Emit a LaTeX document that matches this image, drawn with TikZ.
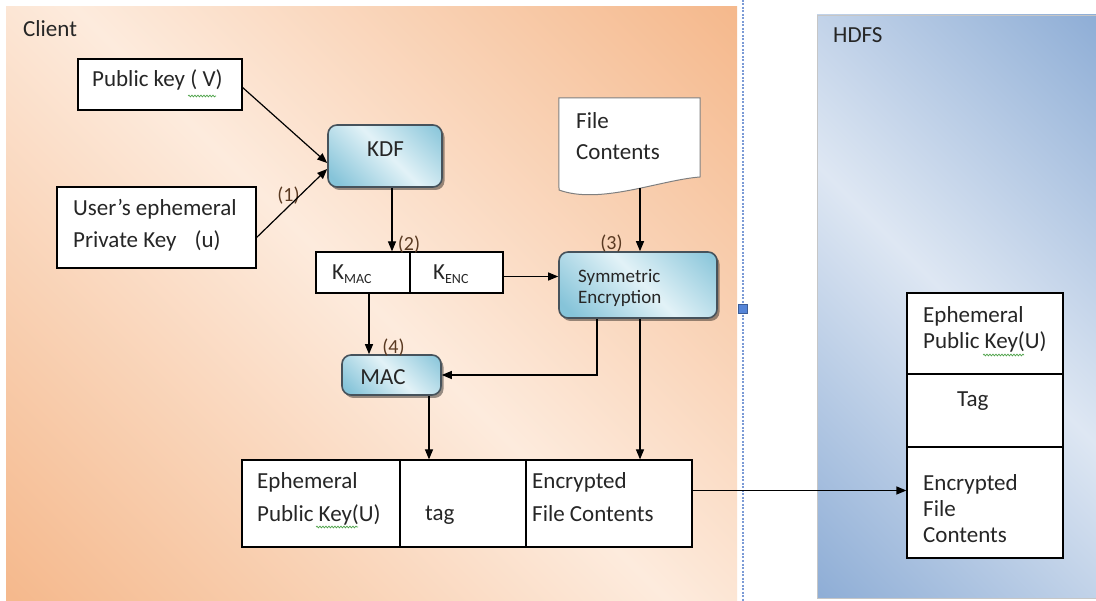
\documentclass[tikz,border=0pt]{standalone}
\usepackage{fontspec}
\setmainfont{Carlito}
\usetikzlibrary{arrows.meta,shadows,decorations.pathmorphing,calc}

\definecolor{txtc}{HTML}{262626}
\definecolor{orgdark}{HTML}{F5B98D}
\definecolor{orglight}{HTML}{FDEBDD}
\definecolor{bluedark}{HTML}{8FAED6}
\definecolor{bluelight}{HTML}{DEE7F3}
\definecolor{procdark}{HTML}{86C4D9}
\definecolor{proclight}{HTML}{E2F2F7}
\definecolor{procedge}{HTML}{46525B}
\definecolor{stepnum}{HTML}{5A3A22}
\definecolor{guide}{HTML}{7C9BD6}
\definecolor{handlefill}{HTML}{5585D8}
\definecolor{squiggle}{HTML}{4FA34A}
\definecolor{docedge}{HTML}{7F7F7F}

% diagonal two-tone fills: dark at two opposite corners, light across the middle
\pgfdeclarehorizontalshading{clientbg}{100bp}{color(0bp)=(orgdark); color(15bp)=(orgdark); color(50bp)=(orglight); color(85bp)=(orgdark); color(100bp)=(orgdark)}
\pgfdeclarehorizontalshading{hdfsbg}{100bp}{color(0bp)=(bluedark); color(15bp)=(bluedark); color(50bp)=(bluelight); color(85bp)=(bluedark); color(100bp)=(bluedark)}
\pgfdeclarehorizontalshading{procbg}{100bp}{color(0bp)=(procdark); color(20bp)=(procdark); color(52bp)=(proclight); color(85bp)=(procdark); color(100bp)=(procdark)}

% left-aligned block of lines whose baseline is the first line
\newcommand{\txtblock}[2]{\parbox[t]{#1pt}{\raggedright #2}}

\begin{document}
\begin{tikzpicture}[x=1pt,y=-1pt, font=\fontsize{23}{32}\selectfont, text=txtc,
  cell/.style={draw=black, line width=1.2pt, fill=white, inner sep=0pt},
  proc/.style={draw=procedge, line width=1.6pt, rounded corners=9pt, shade, shading=procbg, shading angle=45, inner sep=0pt,
    drop shadow={shadow xshift=2.5pt, shadow yshift=-3pt, opacity=0.4, fill=black}},
  lbl/.style={inner sep=0pt, anchor=base west},
  num/.style={inner sep=0pt, text=stepnum, font=\fontsize{20}{20}\selectfont},
  arr/.style={line width=1.2pt, draw=black, -{Triangle[length=10pt,width=8pt]}},
  squig/.style={draw=squiggle, line width=0.7pt, decorate, decoration={snake, amplitude=0.9pt, segment length=3pt}}
]
\fill[white] (0,0) rectangle (1096,601);
\useasboundingbox (0,0) rectangle (1096,601);

% panels
\shade[shading=clientbg, shading angle=45] (6,7) rectangle (737,601);
\shade[shading=hdfsbg, shading angle=45, draw=gray!45, line width=0.8pt] (817,15) rectangle (1100,598);
\draw[guide, line width=1.3pt, dash pattern=on 2pt off 1.5pt] (743,0) -- (743,601);
\node[fill=handlefill, draw=handlefill!70!black, line width=0.5pt, minimum size=9, inner sep=0pt] (handle) at (743,309) {};

\node[lbl] (clientlbl) at (23,37) {Client};
\node[lbl] (hdfslbl) at (833,43) {HDFS};

% inputs
\node[cell, minimum width=164, minimum height=51] (pubv) at (160,84.5) {};
\node[lbl] (pubv-t) at (92,87) {Public key ( V)};
\node[cell, minimum width=199, minimum height=81] (priv) at (156.5,227.5) {};
\node[lbl] (priv-t) at (73,216) {\txtblock{180}{User’s ephemeral\\Private Key\hspace{18pt}(u)}};

% key derivation
\node[proc, minimum width=114, minimum height=62] (kdf) at (385,156) {};
\node[inner sep=0pt, anchor=base] (kdf-t) at (385.5,157) {KDF};

\node[cell, minimum width=94, minimum height=41] (kmac) at (363,272.5) {};
\node[cell, minimum width=93, minimum height=41] (kenc) at (456.5,272.5) {};
\node[lbl] (kmac-t) at (332,280) {K\raisebox{-4pt}{\fontsize{14}{14}\selectfont MAC}};
\node[lbl] (kenc-t) at (433,280) {K\raisebox{-4pt}{\fontsize{14}{14}\selectfont ENC}};

% plaintext document
\node[inner sep=0pt, minimum width=141, minimum height=92] (filec) at (629.5,144) {};
\draw[docedge, line width=1pt, fill=white] (filec.north west) -- (filec.north east) -- (700,177)
  .. controls (660,180) and (600,205) .. (559,190) -- cycle;
\coordinate (fbot) at (640,188);
\node[lbl] (filec-t) at (576,129) {\txtblock{120}{File\\[-1pt]Contents}};

\node[proc, minimum width=158, minimum height=66] (symenc) at (638,285) {};
\node[lbl, font=\fontsize{19}{20.5}\selectfont] (symenc-t) at (578,283) {\txtblock{130}{Symmetric\\Encryption}};

\node[proc, minimum width=99, minimum height=40] (mac) at (391.5,375) {};
\node[inner sep=0pt, anchor=base] (mac-t) at (383,385) {MAC};

% step numbers
\node[num] (n1) at (288.5,196) {(1)};
\node[num] (n2) at (409,244.5) {(2)};
\node[num] (n3) at (611.5,244) {(3)};
\node[num] (n4) at (393.5,347.5) {(4)};

% client output record
\node[cell, minimum width=158, minimum height=87] (ekey) at (321,503.5) {};
\node[cell, minimum width=126, minimum height=87] (tagc) at (463,503.5) {};
\node[cell, minimum width=166, minimum height=87] (encc) at (609,503.5) {};
\node[lbl, font=\fontsize{23}{33}\selectfont] (ekey-t) at (257,489) {\txtblock{140}{Ephemeral\\Public Key(U)}};
\node[lbl] (tagc-t) at (425,521) {tag};
\node[lbl, font=\fontsize{23}{33}\selectfont] (encc-t) at (532,489) {\txtblock{160}{Encrypted\\File Contents}};

% stored record
\node[cell, minimum width=156, minimum height=81] (hek) at (985,333.5) {};
\node[cell, minimum width=156, minimum height=73] (htag) at (985,410.5) {};
\node[cell, minimum width=156, minimum height=111] (henc) at (985,502.5) {};
\node[lbl, font=\fontsize{23}{26}\selectfont] (hek-t) at (923,323) {\txtblock{140}{Ephemeral\\Public Key(U)}};
\node[lbl] (htag-t) at (957,407) {Tag};
\node[lbl, font=\fontsize{23}{26}\selectfont] (henc-t) at (923,491) {\txtblock{140}{Encrypted\\File\\Contents}};

% spelling marks
\draw[squig] (188,96) -- (216,96);
\draw[squig] (316,527) -- (358,527);
\draw[squig] (983,355) -- (1024,355);

% connectors
\draw[arr] ([yshift=-3pt]pubv.east) -- ([yshift=-7pt]kdf.west);
\draw[arr] ([yshift=-10pt]priv.east) -- ([yshift=-13pt]kdf.west);
\draw[arr] ([xshift=7pt]kdf.south) -- ([xshift=7pt]kdf.south |- kmac.north);
\draw[arr] (fbot) -- (fbot |- symenc.north);
\draw[arr] ([yshift=-4pt]kenc.east) -- ([yshift=-4pt]kenc.east -| symenc.west);
\draw[arr] ([xshift=6pt]kmac.south) -- ([xshift=6pt]kmac.south |- mac.north);
\draw[arr] ([xshift=-41pt]symenc.south) |- (mac.east);
\draw[arr] ([xshift=2pt]symenc.south) -- ([xshift=2pt]symenc.south |- encc.north);
\draw[arr] ([xshift=37.5pt]mac.south) -- ([xshift=37.5pt]mac.south |- tagc.north);
\draw[arr] ([yshift=13pt]encc.east) -- ([yshift=13pt]encc.east -| henc.west);
\end{tikzpicture}
\end{document}
